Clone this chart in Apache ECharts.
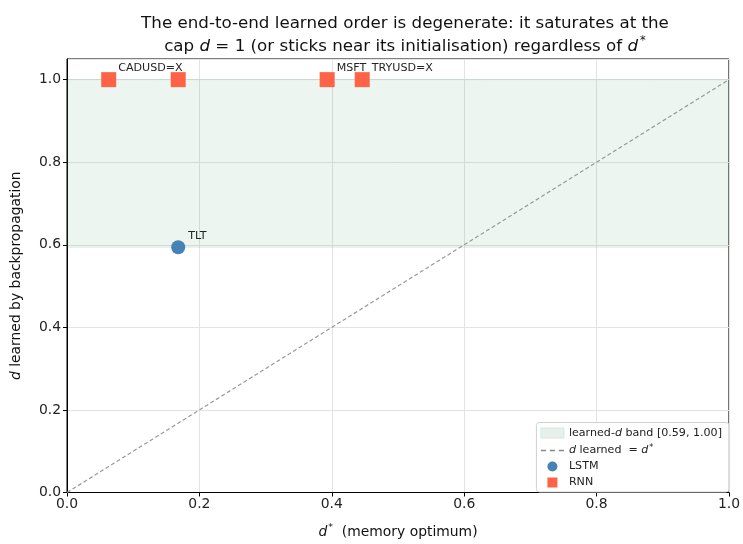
<!DOCTYPE html>
<html><head><meta charset="utf-8">
<script src="https://cdn.jsdelivr.net/npm/echarts@6/dist/echarts.min.js"></script>
<style>html,body{margin:0;padding:0;background:#fff}#c{width:743px;height:544px}</style>
</head><body><div id="c"></div>
<script>
// data
const lstmX = [0.168];
const lstmY = [0.594];
const lstmNames = ['TLT'];
const rnnX = [0.063, 0.168, 0.393, 0.446];
const rnnY = [1.0, 1.0, 1.0, 1.0];
const rnnNames = ['CADUSD=X', '', 'MSFT', 'TRYUSD=X'];
const bandLow = 0.594, bandHigh = 1.0;
const diagX = [0, 1];
const diagY = [0, 1];

const F = 'DejaVu Sans';
const chart = echarts.init(document.getElementById('c'), null, {renderer: 'canvas'});
const mk = (xs, ys, ns) => xs.map((x, i) => ({value: [x, ys[i]], name: ns[i]}));
const labelCfg = {
  show: true, formatter: p => p.name, position: [17, -4], align: 'left', verticalAlign: 'middle',
  fontFamily: F, fontSize: 11.1, color: '#222'
};
const LF = 11.1;
const rich = {
  i: {fontFamily: F, fontStyle: 'italic', fontSize: LF, color: '#222'},
  s: {fontFamily: F, fontSize: 8, color: '#222', padding: [0, 0, 6, 1]},
  t: {fontFamily: F, fontSize: LF, color: '#222'}
};
const AF = 13.9;
chart.setOption({
  animation: false,
  title: {
    text: 'The end-to-end learned order is degenerate: it saturates at the\n{n|cap }{i|d}{n| = 1 (or sticks near its initialisation) regardless of }{i|d}{s|*}',
    left: 400, textAlign: 'center', top: 7,
    textStyle: {
      fontFamily: F, fontSize: 16.7, fontWeight: 'normal', color: '#111', lineHeight: 23,
      rich: {
        n: {fontFamily: F, fontSize: 16.7, color: '#111'},
        i: {fontFamily: F, fontSize: 16.7, fontStyle: 'italic', color: '#111'},
        s: {fontFamily: F, fontSize: 11.5, color: '#111', padding: [0, 0, 10, 2]}
      }
    }
  },
  grid: {left: 67, right: 9, top: 59, bottom: 45, show: true, borderColor: '#000', borderWidth: 1},
  legend: {
    orient: 'vertical', right: 14, bottom: 52,
    backgroundColor: 'rgba(255,255,255,0.85)', borderColor: '#d0d0d0', borderWidth: 1, borderRadius: 3,
    padding: [5, 7, 4, 4], itemGap: 5, itemWidth: 23, itemHeight: 10,
    textStyle: {fontFamily: F, fontSize: LF, color: '#222', rich: rich},
    formatter: n => {
      if (n === 'band') return '{t|learned-}{i|d}{t| band [' + bandLow.toFixed(2) + ', ' + bandHigh.toFixed(2) + ']}';
      if (n === 'diag') return '{i|d}{t| learned  = }{i|d}{s|*}';
      return '{t|' + n + '}';
    },
    data: [
      {name: 'band', icon: 'path://M0,0 h23 v10 h-23 z', itemStyle: {color: '#e7f1eb', borderColor: '#d7e6dd', borderWidth: 1}},
      {name: 'diag', icon: 'path://M0,5 h4 v1.3 h-4 z M7,5 h4 v1.3 h-4 z M14,5 h4 v1.3 h-4 z', itemStyle: {color: '#888'}},
      {name: 'LSTM', icon: 'circle'},
      {name: 'RNN', icon: 'path://M0,0 h10 v10 h-10 z'}
    ]
  },
  xAxis: {
    type: 'value', min: 0, max: 1, interval: 0.2,
    name: '{i|d}{s|*}{n|  (memory optimum)}', nameLocation: 'middle', nameGap: 30,
    nameTextStyle: {fontFamily: F, fontSize: AF, color: '#111', rich: {
      i: {fontFamily: F, fontSize: AF, fontStyle: 'italic', color: '#111'},
      s: {fontFamily: F, fontSize: 9.5, color: '#111', padding: [0, 0, 9, 1]},
      n: {fontFamily: F, fontSize: AF, color: '#111'}}},
    axisLine: {lineStyle: {color: '#000', width: 1}},
    axisTick: {show: true, inside: false, length: 4, lineStyle: {color: '#000'}},
    axisLabel: {fontFamily: F, fontSize: AF, color: '#222', margin: 5, formatter: v => v.toFixed(1)},
    splitLine: {show: true, lineStyle: {color: '#e3e3e3', width: 1}}
  },
  yAxis: {
    type: 'value', min: 0, max: 1.05, interval: 0.2,
    name: '{i|d}{n| learned by backpropagation}', nameLocation: 'middle', nameGap: 44, nameRotate: 90,
    nameTextStyle: {fontFamily: F, fontSize: AF, color: '#111', rich: {
      i: {fontFamily: F, fontSize: AF, fontStyle: 'italic', color: '#111'},
      n: {fontFamily: F, fontSize: AF, color: '#111'}}},
    axisLine: {lineStyle: {color: '#000', width: 1}},
    axisTick: {show: true, inside: false, length: 4, lineStyle: {color: '#000'}},
    axisLabel: {fontFamily: F, fontSize: AF, color: '#222', margin: 6, showMaxLabel: false,
      formatter: v => (v > 1.001 ? '' : v.toFixed(1))},
    splitLine: {show: true, lineStyle: {color: '#e3e3e3', width: 1}}
  },
  series: [
    {
      name: 'band', type: 'line', data: [], itemStyle: {color: '#e7f1eb'},
      markArea: {silent: true, itemStyle: {color: 'rgba(46,139,87,0.09)', borderColor: 'rgba(46,139,87,0.12)', borderWidth: 1},
        data: [[{yAxis: bandLow}, {yAxis: bandHigh}]]}
    },
    {
      name: 'diag', type: 'line', data: diagX.map((x, i) => [x, diagY[i]]), showSymbol: false, symbol: 'none',
      lineStyle: {color: '#999', width: 1.2, type: [4, 2.5]}, itemStyle: {color: '#888'}, z: 3
    },
    {
      name: 'LSTM', type: 'scatter', data: mk(lstmX, lstmY, lstmNames), symbol: 'circle', symbolSize: 14,
      itemStyle: {color: '#4682b4', opacity: 1}, label: labelCfg, z: 4
    },
    {
      name: 'RNN', type: 'scatter', data: mk(rnnX, rnnY, rnnNames), symbol: 'rect', symbolSize: 15,
      symbolKeepAspect: true,
      itemStyle: {color: '#ff6347', opacity: 1}, label: labelCfg, z: 5
    }
  ]
});
</script></body></html>
